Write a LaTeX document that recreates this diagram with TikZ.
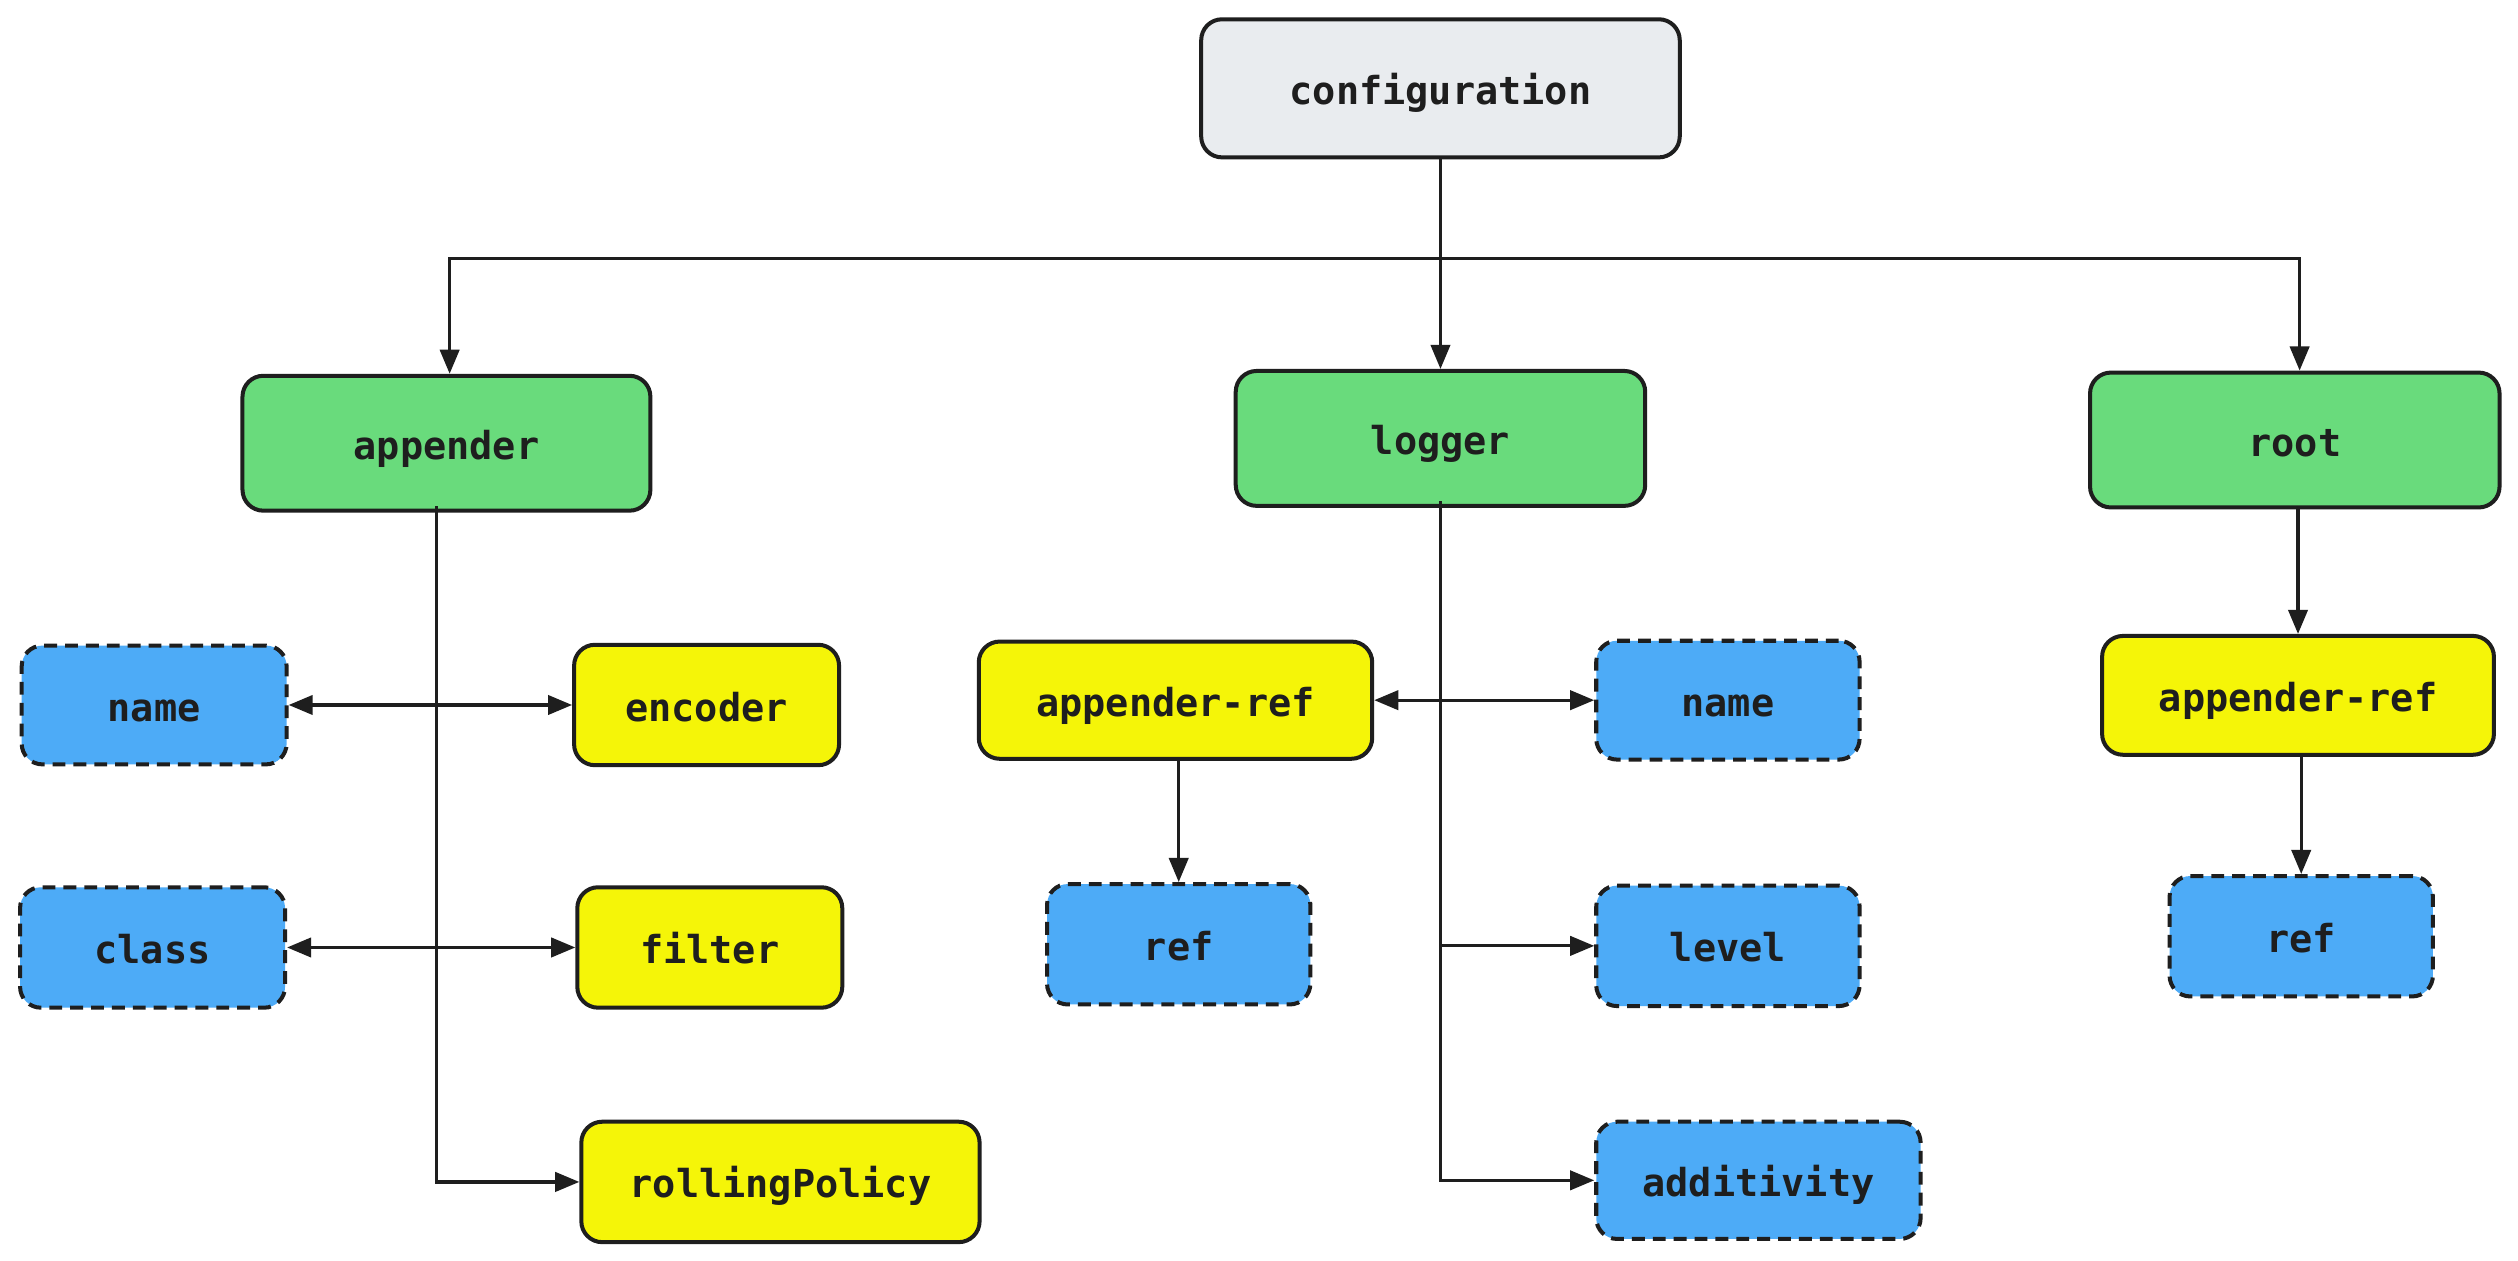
\documentclass[tikz,border=0pt]{standalone}
\usepackage{fontspec}
\setmonofont{DejaVu Sans Mono}
\usetikzlibrary{arrows.meta}
\definecolor{ink}{HTML}{1E1E1E}
\definecolor{cgray}{HTML}{E9ECEF}
\definecolor{cgreen}{HTML}{69DB7C}
\definecolor{cblue}{HTML}{4DABF7}
\definecolor{cyellow}{HTML}{F5F508}
\tikzset{
  box/.style={draw=ink, line width=2.5pt, rounded corners=13pt, inner sep=0pt,
    text=ink, font=\ttfamily\bfseries\fontsize{24}{28}\selectfont, align=center,
    text height=23pt, text depth=3pt},
  graybox/.style={box, fill=cgray},
  greenbox/.style={box, fill=cgreen},
  yellowbox/.style={box, fill=cyellow},
  bluebox/.style={box, fill=cblue, dash pattern=on 8pt off 5pt},
  tip/.tip={Triangle[length=15pt,width=12pt]},
  conn/.style={draw=ink, line width=2pt, -tip},
  dconn/.style={draw=ink, line width=2pt, tip-tip},
  wh/.style 2 args={minimum width=#1pt, minimum height=#2pt}
}
\begin{document}
\begin{tikzpicture}[x=1pt,y=-1pt]
\useasboundingbox[fill=white] (0,0) rectangle (1568,785);
% nodes
\node[graybox, wh={298}{86}] (config) at (897,55) {configuration};
\node[greenbox, wh={254}{84}] (appender) at (278,276) {appender};
\node[greenbox, wh={255}{84}] (logger) at (897,273) {logger};
\node[greenbox, wh={255}{84}] (root) at (1429,274) {root};
\node[bluebox, wh={165}{74}] (name1) at (96,439) {name};
\node[yellowbox, wh={165}{75}] (encoder) at (440,439) {encoder};
\node[bluebox, wh={165}{75}] (class) at (95,590) {class};
\node[yellowbox, wh={165}{75}] (filter) at (442,590) {filter};
\node[yellowbox, wh={248}{75}] (rolling) at (486,736) {rollingPolicy};
\node[yellowbox, wh={245}{73}] (ar1) at (732,436) {appender-ref};
\node[bluebox, wh={164}{74}] (name2) at (1076,436) {name};
\node[bluebox, wh={164}{75}] (ref1) at (734,588) {ref};
\node[bluebox, wh={164}{75}] (level) at (1076,589) {level};
\node[bluebox, wh={202}{73}] (additivity) at (1095,735) {additivity};
\node[yellowbox, wh={244}{74}] (ar2) at (1431,433) {appender-ref};
\node[bluebox, wh={164}{75}] (ref2) at (1433,583) {ref};
% top connectors
\coordinate (bar) at (897,161);
\draw[conn] (config.south) -- (logger.north);
\draw[conn] (bar) -| ([xshift=2pt]appender.north);
\draw[conn] (bar) -| ([xshift=3pt]root.north);
% appender children
\draw[conn] ([xshift=-6pt,yshift=4pt]appender.south) |- (rolling.west);
\draw[dconn] (name1.east) -- (encoder.west);
\draw[dconn] (class.east) -- (filter.west);
% logger children
\draw[conn] ([yshift=4pt]logger.south) |- (additivity.west);
\draw[dconn] (ar1.east) -- (name2.west);
\draw[conn] (logger.south |- level.west) -- (level.west);
\draw[conn] (ar1.south -| ref1.north) -- (ref1.north);
% root children
\draw[conn] (root.south -| ar2.north) -- (ar2.north);
\draw[conn] (ar2.south -| ref2.north) -- (ref2.north);
\end{tikzpicture}
\end{document}
